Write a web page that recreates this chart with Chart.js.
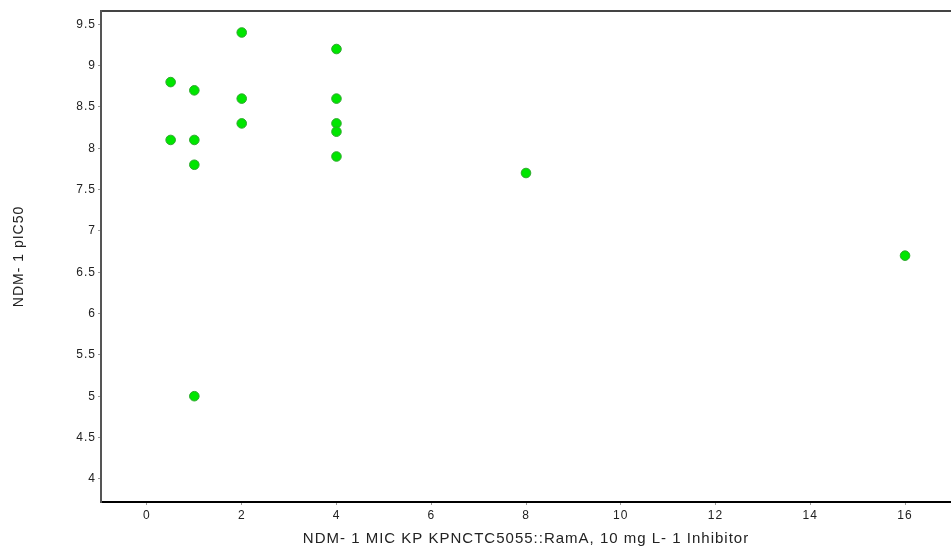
<!DOCTYPE html>
<html>
<head>
<meta charset="utf-8">
<script src="https://cdn.jsdelivr.net/npm/chart.js@4/dist/chart.umd.min.js"></script>
<style>
    html, body { margin: 0; padding: 0; background: #fff; }
    #wrap { width: 951px; height: 552px; }
</style>
</head>
<body>
<div id="wrap"><canvas id="chart"></canvas></div>
<script>
// Данные: MIC и pIC50
const micValues = [0.5, 0.5, 1, 1, 1, 1, 2, 2, 2, 4, 4, 4, 4, 4, 8, 16];
const pic50Values = [8.8, 8.1, 8.7, 8.1, 7.8, 5.0, 9.4, 8.6, 8.3, 9.2, 8.6, 8.3, 8.2, 7.9, 7.7, 6.7];
const xTicks = [0, 2, 4, 6, 8, 10, 12, 14, 16];
const yTicks = [4, 4.5, 5, 5.5, 6, 6.5, 7, 7.5, 8, 8.5, 9, 9.5];
const xTitle = 'NDM- 1 MIC KP KPNCTC5055::RamA, 10 mg L- 1 Inhibitor';
const yTitle = 'NDM- 1 pIC50';

const points = micValues.map((x, i) => ({ x: x, y: pic50Values[i] }));
const font = 'Arial, "Liberation Sans", sans-serif';

// Разрядка букв, как в оригинале
const spacing = {
    id: 'spacing',
    beforeDraw: chart => { chart.ctx.letterSpacing = '1px'; }
};

new Chart(document.getElementById('chart'), {
    type: 'scatter',
    data: {
        datasets: [{
            data: points,
            backgroundColor: '#00e600',
            borderColor: '#2fa82f',
            borderWidth: 1,
            pointRadius: 4.8,
            pointHoverRadius: 4.8,
            clip: false
        }]
    },
    plugins: [spacing],
    options: {
        responsive: true,
        maintainAspectRatio: false,
        animation: false,
        layout: { autoPadding: false, padding: { top: 10, right: 0, left: 0, bottom: 0 } },
        plugins: { legend: { display: false }, tooltip: { enabled: false } },
        scales: {
            x: {
                type: 'linear',
                min: -0.97,
                max: 16.97,
                afterBuildTicks: s => { s.ticks = xTicks.map(v => ({ value: v })); },
                afterFit: s => { s.height = 50; s.paddingRight = 0; s.paddingLeft = 0; },
                grid: { drawOnChartArea: false, tickLength: 3, color: '#999' },
                border: { color: '#000', width: 2 },
                ticks: { color: '#222', font: { family: font, size: 12 }, padding: 3 },
                title: { display: true, text: xTitle, color: '#222', font: { family: font, size: 15 }, padding: { top: 8 } }
            },
            top: {
                type: 'linear',
                position: 'top',
                min: -0.97,
                max: 16.97,
                afterFit: s => { s.height = 1; s.paddingRight = 0; s.paddingLeft = 0; },
                grid: { display: false },
                border: { color: '#444', width: 2 },
                ticks: { display: false }
            },
            y: {
                type: 'linear',
                min: 3.72,
                max: 9.66,
                afterBuildTicks: s => { s.ticks = yTicks.map(v => ({ value: v })); },
                afterFit: s => { s.width = 101; s.paddingTop = 0; s.paddingBottom = 0; },
                grid: { drawOnChartArea: false, tickLength: 3, color: '#999' },
                border: { color: '#555', width: 2 },
                ticks: { color: '#222', font: { family: font, size: 12 }, padding: 2, callback: v => String(v) },
                title: { display: true, text: yTitle, color: '#222', font: { family: font, size: 14 }, padding: { top: 11 } }
            }
        }
    }
});
</script>
</body>
</html>
